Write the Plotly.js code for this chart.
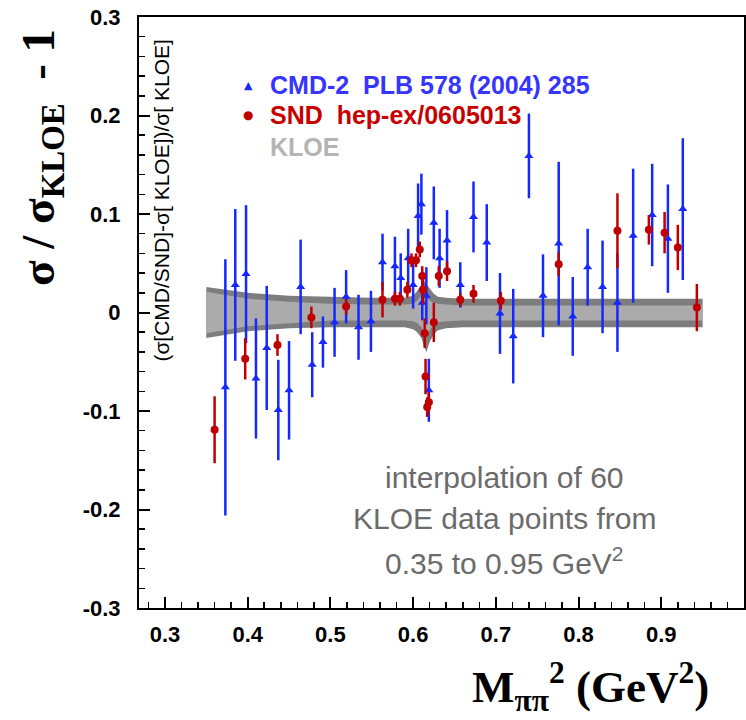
<!DOCTYPE html>
<html>
<head>
<meta charset="utf-8">
<script src="https://cdn.plot.ly/plotly-3.0.1.min.js"></script>
<style>html,body{margin:0;padding:0;background:#fff;}#chart{width:746px;height:720px;}</style>
</head>
<body>
<div id="chart"></div>
<script>
// CMD-2 points: x (GeV^2), relative difference, error
const cmdX = [0.373,0.385,0.398,0.410,0.423,0.437,0.450,0.464,0.478,0.491,0.505,0.519,0.534,0.549,0.563,0.578,0.585,0.594,0.600,0.606,0.610,0.611,0.616,0.619,0.625,0.632,0.641,0.657,0.673,0.689,0.705,0.721,0.740,0.757,0.776,0.793,0.811,0.829,0.847,0.866,0.889,0.908,0.926];
const cmdY = [-0.076,0.028,0.039,-0.067,-0.036,-0.099,-0.079,0.026,-0.053,-0.030,-0.010,0.016,-0.015,-0.009,0.051,0.047,0.035,0.055,0.028,0.098,0.110,0.010,0.017,-0.079,0.091,0.055,0.073,0.028,0.097,0.071,-0.001,-0.024,0.159,0.017,0.070,-0.004,0.046,0.026,0.010,0.078,0.099,0.075,0.105];
const cmdErr = [0.130,0.077,0.070,0.061,0.063,0.051,0.050,0.048,0.033,0.026,0.035,0.027,0.033,0.031,0.029,0.030,0.025,0.030,0.024,0.033,0.031,0.018,0.029,0.032,0.037,0.030,0.031,0.023,0.036,0.039,0.041,0.048,0.043,0.042,0.083,0.040,0.039,0.047,0.050,0.068,0.052,0.055,0.072];

// SND points
const sndX = [0.360,0.397,0.436,0.477,0.519,0.563,0.578,0.584,0.593,0.598,0.6035,0.608,0.611,0.612,0.614,0.615,0.617,0.619,0.625,0.631,0.641,0.657,0.673,0.706,0.776,0.847,0.885,0.904,0.920,0.943];
const sndY = [-0.119,-0.047,-0.033,-0.005,0.006,0.013,0.014,0.014,0.023,0.053,0.053,0.064,0.037,0.023,-0.021,-0.065,-0.096,-0.091,-0.010,0.037,0.042,0.013,0.019,0.012,0.049,0.083,0.084,0.081,0.066,0.005];
const sndErr = [0.034,0.021,0.011,0.011,0.008,0.018,0.007,0.007,0.008,0.007,0.007,0.008,0.010,0.015,0.015,0.018,0.010,0.010,0.020,0.010,0.010,0.007,0.009,0.009,0.012,0.038,0.015,0.021,0.023,0.024];

// KLOE error band (outer = total, inner = statistical)
const bandX = [0.35,0.40,0.45,0.50,0.55,0.59,0.60,0.605,0.61,0.613,0.616,0.62,0.625,0.63,0.64,0.66,0.70,0.80,0.90,0.95];
const bandOuterHi = [0.026,0.020,0.017,0.016,0.015,0.015,0.017,0.022,0.029,0.032,0.029,0.024,0.019,0.016,0.015,0.014,0.014,0.014,0.014,0.014];
const bandOuterLo = [-0.026,-0.019,-0.016,-0.015,-0.015,-0.015,-0.017,-0.020,-0.026,-0.034,-0.040,-0.030,-0.022,-0.018,-0.016,-0.015,-0.015,-0.015,-0.015,-0.015];
const bandInnerHi = [0.021,0.014,0.011,0.009,0.008,0.008,0.009,0.012,0.017,0.019,0.016,0.012,0.010,0.009,0.008,0.007,0.007,0.007,0.007,0.007];
const bandInnerLo = [-0.021,-0.014,-0.011,-0.008,-0.008,-0.008,-0.009,-0.011,-0.015,-0.021,-0.025,-0.018,-0.012,-0.010,-0.009,-0.008,-0.008,-0.008,-0.008,-0.008];

const xTickVals = [0.3,0.4,0.5,0.6,0.7,0.8,0.9,1.0];
const xTickText = ['0.3','0.4','0.5','0.6','0.7','0.8','0.9','1'];
const yTickVals = [-0.3,-0.2,-0.1,0,0.1,0.2,0.3];
const yTickText = ['-0.3','-0.2','-0.1','0','0.1','0.2','0.3'];

const BLUE = '#1428ff';
const RED = '#c00000';

function poly(xs, hi, lo) {
  return { x: xs.concat(xs.slice().reverse()), y: hi.concat(lo.slice().reverse()) };
}
const outer = poly(bandX, bandOuterHi, bandOuterLo);
const inner = poly(bandX, bandInnerHi, bandInnerLo);

const traces = [
  {x: outer.x, y: outer.y, mode:'lines', fill:'toself', fillcolor:'#7d7d7d', line:{width:0, color:'#7d7d7d'}, hoverinfo:'skip', showlegend:false},
  {x: inner.x, y: inner.y, mode:'lines', fill:'toself', fillcolor:'#ababab', line:{width:0, color:'#ababab'}, hoverinfo:'skip', showlegend:false},
  {x: cmdX, y: cmdY, mode:'markers', marker:{symbol:'triangle-up', size:8, color:BLUE},
   error_y:{type:'data', array:cmdErr, visible:true, color:BLUE, thickness:2.5, width:0}, showlegend:false},
  {x: sndX, y: sndY, mode:'markers', marker:{symbol:'circle', size:8, color:RED},
   error_y:{type:'data', array:sndErr, visible:true, color:RED, thickness:2.5, width:0}, showlegend:false}
];

const tickFont = {family:'Liberation Sans, Arial, sans-serif', size:22, color:'#000', weight:'bold'};
const axisCommon = {
  ticks:'inside', ticklen:11, tickwidth:2, tickcolor:'#000',
  showline:true, linewidth:2, linecolor:'#000', mirror:true,
  showgrid:false, zeroline:false, tickfont:tickFont, tickmode:'array',
  minor:{ticks:'inside', ticklen:6, tickwidth:1.5, tickcolor:'#000', tickmode:'linear', tick0:0, dtick:0.02, showgrid:false}
};

const legFont = (c) => ({family:'Liberation Sans, Arial, sans-serif', size:25, color:c, weight:'bold'});
const noteFont = {family:'Liberation Sans, Arial, sans-serif', size:30, color:'#6b6b6b'};
const NB = '\u00a0';

const layout = {
  width:746, height:720,
  margin:{l:139, r:2, t:17, b:112, pad:0},
  paper_bgcolor:'#fff', plot_bgcolor:'#fff',
  xaxis: Object.assign({}, axisCommon, {range:[0.2686,1.0], tickvals:xTickVals, ticktext:xTickText, ticklabelstandoff:6}),
  yaxis: Object.assign({}, axisCommon, {range:[-0.3,0.3], tickvals:yTickVals, ticktext:yTickText, ticklabelstandoff:12}),
  showlegend:false,
  annotations:[
    {xref:'paper', yref:'paper', x:-0.162, y:0.763, xanchor:'center', yanchor:'middle', textangle:-90, showarrow:false,
     text:'σ / σ<sub>KLOE</sub>  - 1', font:{family:'Liberation Serif, Times New Roman, serif', size:47, color:'#000', weight:'bold'}},
    {xref:'paper', yref:'paper', x:0.037, y:0.69, xanchor:'center', yanchor:'middle', textangle:-90, showarrow:false,
     text:'(σ[CMD/SND]-σ[ KLOE])/σ[ KLOE]', font:{family:'Liberation Sans, Arial, sans-serif', size:21, color:'#000'}},
    {xref:'paper', yref:'paper', x:0.946, y:-0.132, xanchor:'right', yanchor:'middle', showarrow:false,
     text:'M<sub>ππ</sub><sup>2</sup> (GeV<sup>2</sup>)', font:{family:'Liberation Serif, Times New Roman, serif', size:45, color:'#000', weight:'bold'}},
    // legend
    {xref:'paper', yref:'paper', x:(248-139)/605, y:(607-85)/590, xanchor:'center', yanchor:'middle', showarrow:false,
     text:'▲', font:{family:'DejaVu Sans, sans-serif', size:11, color:BLUE}},
    {xref:'paper', yref:'paper', x:(268-139)/605, y:(607-85)/590, xanchor:'left', yanchor:'middle', showarrow:false,
     text:'CMD-2'+NB+NB+'PLB 578 (2004) 285', font:legFont('#3535ff')},
    {xref:'paper', yref:'paper', x:(248-139)/605, y:(607-115)/590, xanchor:'center', yanchor:'middle', showarrow:false,
     text:'●', font:{family:'DejaVu Sans, sans-serif', size:12, color:RED}},
    {xref:'paper', yref:'paper', x:(268-139)/605, y:(607-115)/590, xanchor:'left', yanchor:'middle', showarrow:false,
     text:'SND'+NB+NB+'hep-ex/0605013', font:legFont('#c80000')},
    {xref:'paper', yref:'paper', x:(268-139)/605, y:(607-147)/590, xanchor:'left', yanchor:'middle', showarrow:false,
     text:'KLOE', font:legFont('#b4b4b4')},
    // note
    {xref:'x', yref:'y', x:0.711, y:-0.1675, xanchor:'center', yanchor:'middle', showarrow:false, text:'interpolation of 60', font:noteFont},
    {xref:'x', yref:'y', x:0.711, y:-0.2092, xanchor:'center', yanchor:'middle', showarrow:false, text:'KLOE data points from', font:noteFont},
    {xref:'x', yref:'y', x:0.711, y:-0.2519, xanchor:'center', yanchor:'middle', showarrow:false, text:'0.35 to 0.95 GeV<sup>2</sup>', font:noteFont}
  ]
};

Plotly.newPlot('chart', traces, layout, {staticPlot:true, displayModeBar:false});
</script>
</body>
</html>
